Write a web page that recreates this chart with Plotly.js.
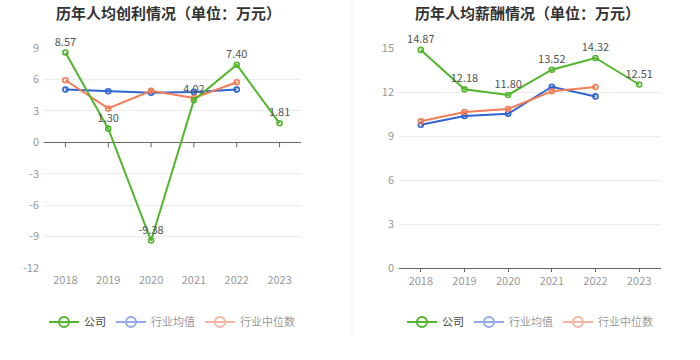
<!DOCTYPE html>
<html>
<head>
<meta charset="utf-8">
<script src="https://cdn.plot.ly/plotly-3.0.1.min.js"></script>
<style>html,body{margin:0;padding:0;background:#fff;}#chart{width:700px;height:360px;}</style>
</head>
<body>
<div id="chart"></div>
<script>
const years = ['2018','2019','2020','2021','2022','2023'];
const profitCompany = [8.57, 1.30, -9.38, 4.02, 7.40, 1.81];
const profitIndustryAvg = [5.03, 4.87, 4.72, 4.81, 5.03];
const profitIndustryMedian = [5.92, 3.23, 4.91, 4.24, 5.73];
const salaryCompany = [14.87, 12.18, 11.80, 13.52, 14.32, 12.51];
const salaryIndustryAvg = [9.77, 10.36, 10.52, 12.36, 11.70];
const salaryIndustryMedian = [10.00, 10.64, 10.84, 12.05, 12.34];
const leftTicks = [-12, -9, -6, -3, 0, 3, 6, 9];
const leftTickText = ['-12', '-9', '-6', '-3', '0', '3', '6', '9'];
const rightTicks = [0, 3, 6, 9, 12, 15];
const seriesNames = ['公司', '行业均值', '行业中位数'];

const GREEN = '#52b52c', BLUE = '#2f64d3', ORANGE = '#f07d56';
const GREEN_L = '#52b52c', BLUE_L = '#94a9ea', ORANGE_L = '#f5b7a3';
const FONT = '"Noto Sans CJK SC", "Noto Sans", sans-serif';

function series(x, y, color, xa, ya, withText) {
  const t = {
    x: x, y: y, type: 'scatter', mode: withText ? 'lines+markers+text' : 'lines+markers',
    xaxis: xa, yaxis: ya, showlegend: false, cliponaxis: false,
    line: {color: color, width: 2},
    marker: {symbol: 'circle-open', size: 5, color: color, line: {width: 1.6, color: color}},
    hoverinfo: 'skip'
  };
  if (withText) {
    t.text = y.map(v => v.toFixed(2));
    t.textposition = 'top center';
    t.textfont = {family: FONT, size: 11, color: '#555'};
  }
  return t;
}
function legendItem(name, color, textColor, legend) {
  return {
    x: [null], y: [null], type: 'scatter', mode: 'lines+markers',
    name: '<span style="color:' + textColor + '">' + name + '</span>',
    legend: legend, showlegend: true,
    line: {color: color, width: 2},
    marker: {symbol: 'circle-open', size: 10, color: color, line: {width: 2, color: color}},
    xaxis: legend === 'legend' ? 'x' : 'x2', yaxis: legend === 'legend' ? 'y' : 'y2'
  };
}

const data = [
  series(years.slice(0, 5), profitIndustryAvg, BLUE, 'x', 'y', false),
  series(years.slice(0, 5), profitIndustryMedian, ORANGE, 'x', 'y', false),
  series(years, profitCompany, GREEN, 'x', 'y', true),
  series(years.slice(0, 5), salaryIndustryAvg, BLUE, 'x2', 'y2', false),
  series(years.slice(0, 5), salaryIndustryMedian, ORANGE, 'x2', 'y2', false),
  series(years, salaryCompany, GREEN, 'x2', 'y2', true),
  legendItem(seriesNames[0], GREEN_L, '#444', 'legend'),
  legendItem(seriesNames[1], BLUE_L, '#999', 'legend'),
  legendItem(seriesNames[2], ORANGE_L, '#999', 'legend'),
  legendItem(seriesNames[0], GREEN_L, '#444', 'legend2'),
  legendItem(seriesNames[1], BLUE_L, '#999', 'legend2'),
  legendItem(seriesNames[2], ORANGE_L, '#999', 'legend2')
];

const tickFont = {family: FONT, size: 11, color: '#999'};
const plotH = 220;
const shapes = [
  {type: 'line', xref: 'paper', yref: 'paper', x0: 352/700, x1: 352/700, y0: (268-335)/plotH, y1: 1 + 48/plotH, line: {color: '#f0f0f0', width: 1}, layer: 'below'}
];
years.forEach((yr, i) => {
  shapes.push({type: 'line', xref: 'x', yref: 'y', ysizemode: 'pixel', yanchor: 0, x0: i, x1: i, y0: 0, y1: -5, line: {color: '#666', width: 1}});
});

const layout = {
  width: 700, height: 360,
  margin: {l: 0, r: 0, t: 48, b: 92},
  paper_bgcolor: '#fff', plot_bgcolor: '#fff',
  font: {family: FONT},
  xaxis: {domain: [44/700, 301/700], type: 'category', range: [-0.5, 5.5], anchor: 'y',
    showgrid: false, showline: false, zeroline: false, ticks: 'outside', ticklen: 2, tickcolor: 'rgba(0,0,0,0)',
    tickfont: tickFont, fixedrange: true},
  yaxis: {domain: [0, 1], range: [-12, 9], tickmode: 'array', tickvals: leftTicks, ticktext: leftTickText, anchor: 'x',
    showgrid: true, gridcolor: '#ececec', gridwidth: 1, zeroline: true, zerolinecolor: '#666', zerolinewidth: 1,
    showline: false, tickfont: tickFont, ticklabelstandoff: 4, fixedrange: true},
  xaxis2: {domain: [399/700, 661/700], type: 'category', range: [-0.5, 5.5], anchor: 'y2',
    showgrid: false, showline: true, linecolor: '#666', linewidth: 1, zeroline: false,
    ticks: 'outside', ticklen: 3, tickcolor: '#666', tickfont: tickFont, fixedrange: true},
  yaxis2: {domain: [0, 1], range: [0, 15], tickmode: 'array', tickvals: rightTicks, anchor: 'x2',
    showgrid: true, gridcolor: '#ececec', gridwidth: 1, zeroline: false,
    showline: false, tickfont: tickFont, ticklabelstandoff: 4, fixedrange: true},
  legend: {orientation: 'h', x: 172/700, xanchor: 'center', y: -54/plotH, yanchor: 'middle',
    font: {family: FONT, size: 11, color: '#999'}, itemwidth: 30, bgcolor: 'rgba(0,0,0,0)', tracegroupgap: 0},
  legend2: {orientation: 'h', x: 530/700, xanchor: 'center', y: -54/plotH, yanchor: 'middle',
    font: {family: FONT, size: 11, color: '#999'}, itemwidth: 30, bgcolor: 'rgba(0,0,0,0)', tracegroupgap: 0},
  annotations: [
    {text: '<b>历年人均创利情况（单位：万元）</b>', xref: 'paper', yref: 'paper', x: 168/700, y: 1 + 35/plotH,
      xanchor: 'center', yanchor: 'middle', showarrow: false, font: {family: FONT, size: 15, color: '#333'}},
    {text: '<b>历年人均薪酬情况（单位：万元）</b>', xref: 'paper', yref: 'paper', x: 527/700, y: 1 + 35/plotH,
      xanchor: 'center', yanchor: 'middle', showarrow: false, font: {family: FONT, size: 15, color: '#333'}}
  ],
  shapes: shapes,
  hovermode: false
};

Plotly.newPlot('chart', data, layout, {displayModeBar: false, staticPlot: true});
</script>
</body>
</html>
